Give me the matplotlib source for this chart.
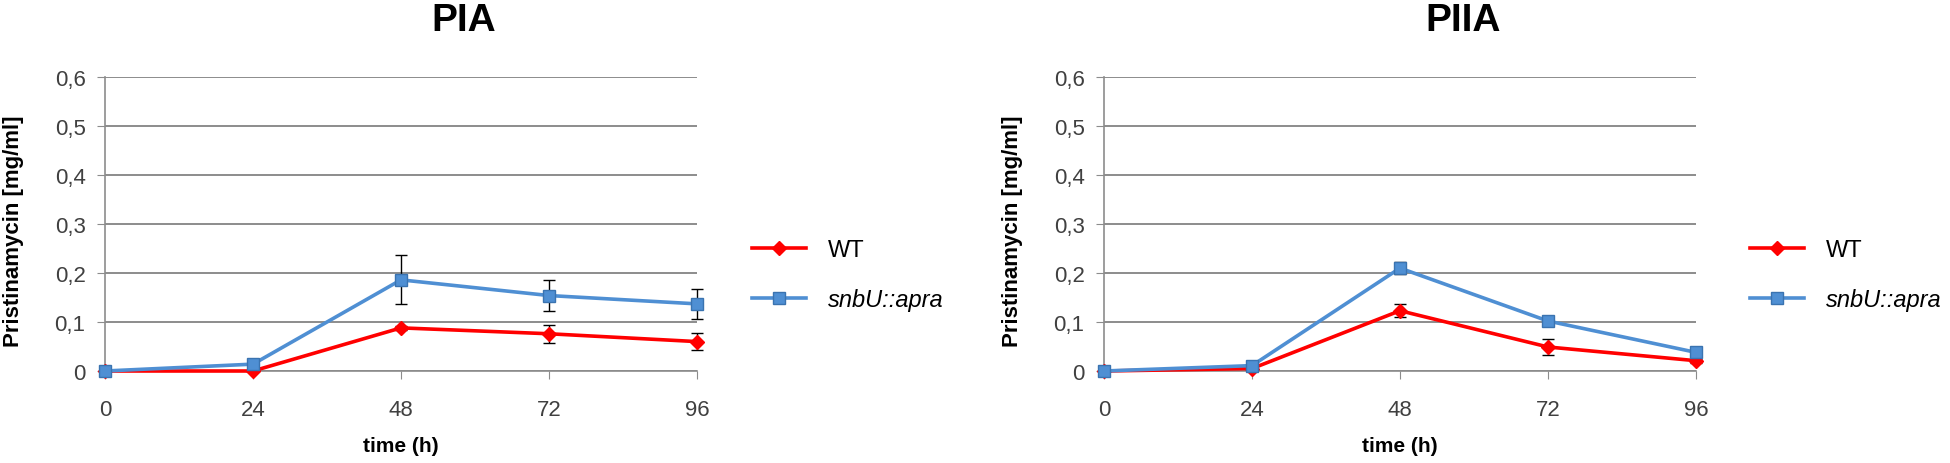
import numpy as np
import matplotlib
matplotlib.use('Agg')
import matplotlib.pyplot as plt
from matplotlib.lines import Line2D

plt.rcParams['font.family'] = ['Liberation Sans', 'DejaVu Sans']

## Dados
time_h = [0, 24, 48, 72, 96]

pia_wt = [0, 0, 0.088, 0.076, 0.060]
pia_wt_err = [0, 0, 0.004, 0.018, 0.017]
pia_mut = [0, 0.014, 0.186, 0.154, 0.137]
pia_mut_err = [0, 0.003, 0.050, 0.031, 0.030]

piia_wt = [0, 0.005, 0.123, 0.049, 0.021]
piia_wt_err = [0, 0.002, 0.013, 0.017, 0.004]
piia_mut = [0, 0.011, 0.210, 0.102, 0.038]
piia_mut_err = [0, 0.003, 0.012, 0.005, 0.004]

titles = ['PIA', 'PIIA']
labels = ['WT', 'snbU::apra']
yticks = [0, 0.1, 0.2, 0.3, 0.4, 0.5, 0.6]
ytick_labels = ['0', '0,1', '0,2', '0,3', '0,4', '0,5', '0,6']

red = '#FF0000'
blue = '#4F8FD3'
grid_c = '#8C8C8C'

W, H = 1950, 464
fig = plt.figure(figsize=(W / 100, H / 100), dpi=100)

panels = [
    (105, titles[0], pia_wt, pia_wt_err, pia_mut, pia_mut_err, 752),
    (1104, titles[1], piia_wt, piia_wt_err, piia_mut, piia_mut_err, 1750),
]

for x0, title, wt, wt_err, mut, mut_err, leg_x in panels:
    ax = fig.add_axes([x0 / W, (H - 372) / H, 592 / W, 294 / H])
    ax.errorbar(time_h, wt, yerr=wt_err, color=red, lw=2.6, marker='D',
                ms=7, mec=red, mfc=red, ecolor='black', elinewidth=1,
                capsize=4, capthick=1, zorder=3, clip_on=False)
    ax.errorbar(time_h, mut, yerr=mut_err, color=blue, lw=2.6, marker='s',
                ms=9, mec='#3A73B0', mfc=blue, ecolor='black', elinewidth=1,
                capsize=4, capthick=1, zorder=4, clip_on=False)
    ax.set_xlim(0, 96)
    ax.set_ylim(0, 0.6)
    ax.set_xticks(time_h)
    ax.set_xticklabels([str(t) for t in time_h], fontsize=16, color='#404040')
    ax.set_yticks(yticks)
    ax.set_yticklabels(ytick_labels, fontsize=16, color='#404040')
    ax.yaxis.grid(True, color=grid_c, lw=1.4)
    ax.set_axisbelow(True)
    for s in ['top', 'right']:
        ax.spines[s].set_visible(False)
    for s in ['left', 'bottom']:
        ax.spines[s].set_color(grid_c)
        ax.spines[s].set_linewidth(1.2)
    ax.tick_params(axis='x', direction='out', length=6, color=grid_c, pad=14)
    ax.tick_params(axis='y', direction='out', length=6, color=grid_c, pad=8)
    ax.set_xlabel('time (h)', fontsize=15, fontweight='bold', labelpad=12)
    ax.set_ylabel('Pristinamycin [mg/ml]', fontsize=16, fontweight='bold')
    ax.yaxis.set_label_coords(-0.136, 0.48)
    fig.text((x0 + 359) / W, 1 - 21 / H, title, fontsize=28, fontweight='bold',
             ha='center', va='center')
    handles = [
        Line2D([], [], color=red, lw=2.6, marker='D', ms=7, mec=red, mfc=red),
        Line2D([], [], color=blue, lw=2.6, marker='s', ms=9, mec='#3A73B0', mfc=blue),
    ]
    leg = fig.legend(handles, labels, loc='upper left',
                     bbox_to_anchor=(leg_x / W, 1 - 240 / H), frameon=False,
                     fontsize=17, handlelength=2.3, handletextpad=0.9,
                     labelspacing=1.15, borderpad=0, borderaxespad=0)
    leg.get_texts()[1].set_fontstyle('italic')

fig.savefig('out.png', dpi=100)
